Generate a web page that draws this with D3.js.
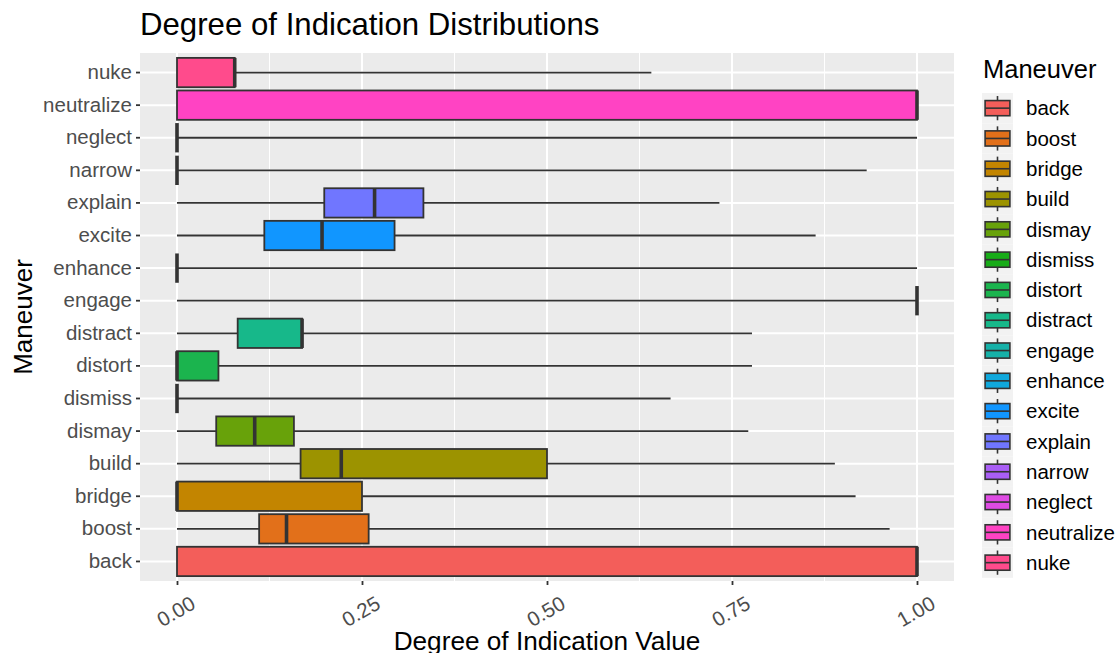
<!DOCTYPE html>
<html>
<head>
<meta charset="utf-8">
<script src="https://cdn.jsdelivr.net/npm/d3@7"></script>
<style>
  html, body { margin: 0; padding: 0; background: #ffffff; }
  svg { display: block; font-family: "Liberation Sans", Arial, Helvetica, sans-serif; }
</style>
</head>
<body>
<svg id="chart" width="1119" height="653"></svg>
<script>
// Maneuver categories (factor order, bottom to top on the y axis)
const maneuvers = ["back", "boost", "bridge", "build", "dismay", "dismiss", "distort", "distract",
                   "engage", "enhance", "excite", "explain", "narrow", "neglect", "neutralize", "nuke"];

// Five-number summaries of the degree of indication for each maneuver
const whiskerLow  = [0,     0,     0,     0,     0,     0,     0,     0,     0, 0, 0,     0,     0,     0, 0, 0];
const quartile1   = [0,     0.111, 0,     0.167, 0.053, 0,     0,     0.082, 1, 0, 0.118, 0.199, 0,     0, 0, 0];
const medianValue = [1,     0.148, 0,     0.222, 0.105, 0,     0,     0.169, 1, 0, 0.196, 0.267, 0,     0, 1, 0.078];
const quartile3   = [1,     0.259, 0.25,  0.5,   0.158, 0,     0.056, 0.169, 1, 0, 0.294, 0.333, 0,     0, 1, 0.078];
const whiskerHigh = [1,     0.963, 0.917, 0.889, 0.772, 0.667, 0.777, 0.777, 1, 1, 0.863, 0.733, 0.932, 1, 1, 0.641];

// Fill colours per maneuver
const fillColors = ["#F35E5A", "#E2701A", "#C38500", "#9C9300", "#68A20A", "#18AC18", "#1BB44E", "#17B88A",
                    "#16B1A8", "#10A8DC", "#1196FF", "#7076FF", "#A95EF5", "#DE4BE3", "#FF43C3", "#FF4B8C"];

// Axis ticks
const xTicks = [0, 0.25, 0.5, 0.75, 1];
const xTickLabels = ["0.00", "0.25", "0.50", "0.75", "1.00"];
const xMinorTicks = [0.125, 0.375, 0.625, 0.875];

const svg = d3.select("#chart");
const panel = { left: 140, right: 954, top: 53, bottom: 581 };

const x = d3.scaleLinear().domain([-0.05, 1.05]).range([panel.left, panel.right]);
const y = d3.scaleBand().domain(maneuvers).range([panel.bottom, panel.top]).paddingOuter(0.1).paddingInner(0);
const color = d3.scaleOrdinal().domain(maneuvers).range(fillColors);

const rows = maneuvers.map((m, i) => ({
  name: m, lo: whiskerLow[i], q1: quartile1[i], med: medianValue[i], q3: quartile3[i], hi: whiskerHigh[i]
}));

// Panel background
svg.append("rect")
  .attr("x", panel.left).attr("y", panel.top)
  .attr("width", panel.right - panel.left).attr("height", panel.bottom - panel.top)
  .attr("fill", "#EBEBEB");

// Grid lines
const grid = svg.append("g");
grid.selectAll("line.minor").data(xMinorTicks).join("line")
  .attr("x1", d => x(d)).attr("x2", d => x(d))
  .attr("y1", panel.top).attr("y2", panel.bottom)
  .attr("stroke", "#ffffff").attr("stroke-width", 1);
grid.selectAll("line.majx").data(xTicks).join("line")
  .attr("x1", d => x(d)).attr("x2", d => x(d))
  .attr("y1", panel.top).attr("y2", panel.bottom)
  .attr("stroke", "#ffffff").attr("stroke-width", 2);
grid.selectAll("line.majy").data(maneuvers).join("line")
  .attr("x1", panel.left).attr("x2", panel.right)
  .attr("y1", d => y(d) + y.bandwidth() / 2).attr("y2", d => y(d) + y.bandwidth() / 2)
  .attr("stroke", "#ffffff").attr("stroke-width", 2);

// Boxplots
const boxH = y.bandwidth() * 0.9;
const boxes = svg.append("g").selectAll("g").data(rows).join("g")
  .attr("transform", d => `translate(0,${y(d.name) + y.bandwidth() / 2})`);

boxes.append("line")
  .attr("x1", d => x(d.lo)).attr("x2", d => x(d.q1))
  .attr("stroke", "#333333").attr("stroke-width", 1.8);
boxes.append("line")
  .attr("x1", d => x(d.q3)).attr("x2", d => x(d.hi))
  .attr("stroke", "#333333").attr("stroke-width", 1.8);
boxes.append("rect")
  .attr("x", d => x(d.q1)).attr("width", d => x(d.q3) - x(d.q1))
  .attr("y", -boxH / 2).attr("height", boxH)
  .attr("fill", d => color(d.name))
  .attr("stroke", "#333333").attr("stroke-width", 1.8);
boxes.append("line")
  .attr("x1", d => x(d.med)).attr("x2", d => x(d.med))
  .attr("y1", -boxH / 2).attr("y2", boxH / 2)
  .attr("stroke", "#333333").attr("stroke-width", 3.6);

// X axis
const xAxis = svg.append("g").attr("transform", `translate(0,${panel.bottom})`)
  .call(d3.axisBottom(x).tickValues(xTicks).tickFormat((d, i) => xTickLabels[i]).tickSize(4).tickPadding(4));
xAxis.select(".domain").remove();
xAxis.selectAll(".tick line").attr("stroke", "#333333").attr("stroke-width", 1.8);
xAxis.selectAll(".tick text")
  .attr("fill", "#4D4D4D").attr("font-size", 20.5)
  .attr("text-anchor", "end")
  .attr("transform", "translate(8,7) rotate(-30)")
  .attr("dy", "0.71em");

// Y axis
const yAxis = svg.append("g").attr("transform", `translate(${panel.left},0)`)
  .call(d3.axisLeft(y).tickSize(4).tickPadding(4));
yAxis.select(".domain").remove();
yAxis.selectAll(".tick line").attr("stroke", "#333333").attr("stroke-width", 1.8);
yAxis.selectAll(".tick text").attr("fill", "#4D4D4D").attr("font-size", 20.5);

// Titles
svg.append("text").attr("x", 140).attr("y", 35)
  .attr("font-size", 31.2).attr("fill", "#000").text("Degree of Indication Distributions");
svg.append("text").attr("x", (panel.left + panel.right) / 2).attr("y", 650)
  .attr("text-anchor", "middle").attr("font-size", 26.2).attr("fill", "#000")
  .text("Degree of Indication Value");
svg.append("text")
  .attr("transform", `translate(32,${(panel.top + panel.bottom) / 2}) rotate(-90)`)
  .attr("text-anchor", "middle").attr("font-size", 26).attr("fill", "#000")
  .text("Maneuver");

// Legend
const legend = svg.append("g").attr("transform", "translate(982,0)");
legend.append("text").attr("x", 1).attr("y", 78)
  .attr("font-size", 25.5).attr("fill", "#000").text("Maneuver");
const keySize = 30.3;
const keyTop = 93;
const keys = legend.selectAll("g.key").data(maneuvers).join("g")
  .attr("transform", (d, i) => `translate(0,${keyTop + i * keySize})`);
keys.append("rect").attr("width", 31).attr("height", keySize).attr("fill", "#F2F2F2");
keys.append("line")
  .attr("x1", 15.5).attr("x2", 15.5).attr("y1", keySize * 0.1).attr("y2", keySize * 0.9)
  .attr("stroke", "#333333").attr("stroke-width", 1.6);
keys.append("rect")
  .attr("x", 31 * 0.1).attr("width", 31 * 0.8)
  .attr("y", keySize * 0.25).attr("height", keySize * 0.5)
  .attr("fill", d => color(d)).attr("stroke", "#333333").attr("stroke-width", 1.6);
keys.append("line")
  .attr("x1", 31 * 0.1).attr("x2", 31 * 0.9).attr("y1", keySize / 2).attr("y2", keySize / 2)
  .attr("stroke", "#333333").attr("stroke-width", 1.6);
keys.append("text")
  .attr("x", 44).attr("y", keySize / 2).attr("dy", "0.35em")
  .attr("font-size", 20.5).attr("fill", "#000").text(d => d);
</script>
</body>
</html>
